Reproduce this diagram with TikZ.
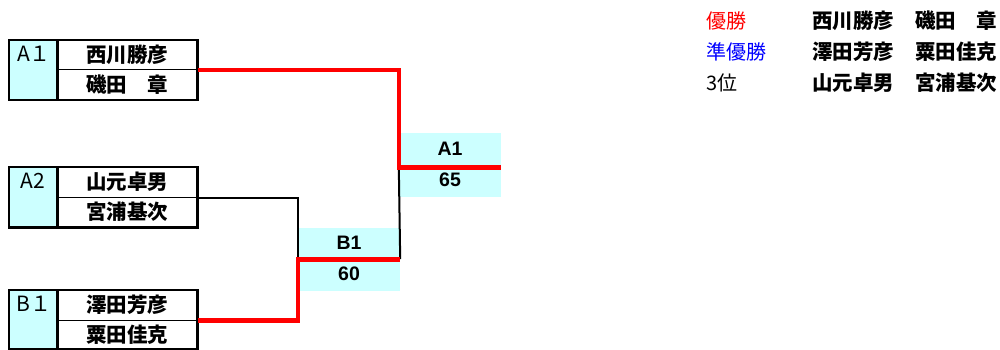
\documentclass[tikz,border=0pt]{standalone}
\usepackage{fontspec}
\setmainfont{Liberation Sans}
\newfontfamily\jp{Noto Sans CJK JP}
\definecolor{seedcyan}{HTML}{CCFFFF}
\definecolor{winred}{HTML}{FF0000}
\definecolor{runblue}{HTML}{0000FF}
\tikzset{
  seedcell/.style={fill=seedcyan, draw=none, inner sep=0pt, minimum width=48pt, minimum height=60pt, anchor=north west},
  namecell/.style={draw=black, line width=1pt, inner sep=0pt, minimum width=140pt, minimum height=30pt, font=\jp\bfseries\fontsize{20.5pt}{21pt}\selectfont},
  seedtext/.style={inner sep=0pt, font=\jp\fontsize{21pt}{22pt}\selectfont},
  frame/.style={draw=black, line width=2.4pt},
  rescell/.style={fill=seedcyan, inner sep=0pt, minimum width=102pt},
  restext/.style={inner sep=0pt, font=\bfseries\fontsize{19.5pt}{21pt}\selectfont},
  redline/.style={draw=winred, line width=4.6pt, line join=miter},
  blackline/.style={draw=black, line width=2pt},
  legend/.style={inner sep=0pt, anchor=west, font=\jp\fontsize{20pt}{21pt}\selectfont},
  legendname/.style={legend, font=\jp\bfseries\fontsize{20.5pt}{21pt}\selectfont}
}
\begin{document}
\begin{tikzpicture}[x=1pt,y=-1pt]
\useasboundingbox (0,0) rectangle (1000,350);
% ---- entry A1
\node[seedcell] (sA) at (9,40) {};
\node[namecell] (pAa) at (127,54.5) {西川勝彦};
\node[namecell] (pAb) at (127,84.5) {磯田　章};
\node[seedtext] (tA) at (34,54) {A１};
\draw[frame] (sA.north west) rectangle (pAb.south east);
\draw[frame] (sA.north east) -- (sA.south east);
% ---- entry A2
\node[seedcell] (sB) at (9,167) {};
\node[namecell] (pBa) at (127,182) {山元卓男};
\node[namecell] (pBb) at (127,212) {宮浦基次};
\node[seedtext] (tB) at (33,181) {A2};
\draw[frame] (sB.north west) rectangle (pBb.south east);
\draw[frame] (sB.north east) -- (sB.south east);
% ---- entry B1
\node[seedcell, minimum height=59pt] (sC) at (9,290) {};
\node[namecell] (pCa) at (127,305) {澤田芳彦};
\node[namecell, minimum height=29pt] (pCb) at (127,334.5) {粟田佳克};
\node[seedtext] (tC) at (34,304) {B１};
\draw[frame] (sC.north west) rectangle (pCb.south east);
\draw[frame] (sC.north east) -- (sC.south east);
% ---- result boxes
\node[rescell, minimum height=34pt] (rA) at (450,150) {};
\node[rescell, minimum height=30pt] (rAs) at (450,182) {};
\node[restext] (rAt) at (450,148.5) {A1};
\node[restext] (rAn) at (450,179.5) {65};
\node[rescell, minimum height=31pt] (rB) at (349,243.5) {};
\node[rescell, minimum height=32pt] (rBs) at (349,275) {};
\node[restext] (rBt) at (349,243) {B1};
\node[restext] (rBn) at (349,274) {60};
% ---- connectors
\draw[blackline] (pBa.south east) -| (rB.south west);
\draw[blackline] (rB.south east) -- (rA.south west);
\draw[redline] (pAa.south east) -| (rA.south west) -- (rA.south east);
\draw[redline] (pCa.south east) -| (rB.south west) -- (rB.south east);
% ---- legend
\node[legend, text=winred] (l1) at (706,21) {優勝};
\node[legendname] (l1a) at (812,21) {西川勝彦};
\node[legendname] (l1b) at (915,21) {磯田　章};
\node[legend, text=runblue] (l2) at (706,52) {準優勝};
\node[legendname] (l2a) at (812,52) {澤田芳彦};
\node[legendname] (l2b) at (915,52) {粟田佳克};
\node[legend] (l3) at (706,83) {3位};
\node[legendname] (l3a) at (812,83) {山元卓男};
\node[legendname] (l3b) at (915,83) {宮浦基次};
\end{tikzpicture}
\end{document}
